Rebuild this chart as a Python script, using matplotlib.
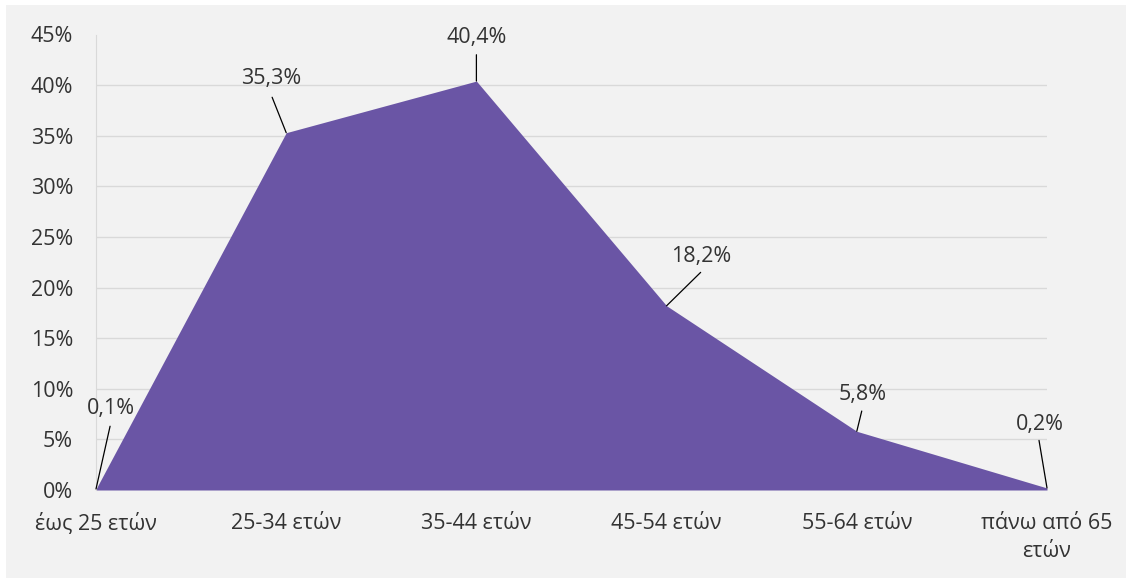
import matplotlib
matplotlib.use("Agg")
import matplotlib.pyplot as plt
from matplotlib.patches import Rectangle

plt.rcParams["font.family"] = ["Open Sans", "DejaVu Sans"]

categories = ["έως 25 ετών", "25-34 ετών", "35-44 ετών", "45-54 ετών",
              "55-64 ετών", "πάνω από 65\nετών"]
values = [0.1, 35.3, 40.4, 18.2, 5.8, 0.2]
labels = ["0,1%", "35,3%", "40,4%", "18,2%", "5,8%", "0,2%"]
yticks = [0, 5, 10, 15, 20, 25, 30, 35, 40, 45]

# data label placement: text centre and leader-line end, relative to the point
text_dx = [0.08, -0.08, 0.0, 0.18, 0.03, -0.04]
text_dy = [8.0, 5.4, 4.3, 4.9, 3.6, 6.3]
line_dx = [0.074, -0.074, 0.0, 0.179, 0.026, -0.042]
line_dy = [6.2, 3.5, 2.6, 3.3, 2.0, 4.7]

FS = 15.5

fig = plt.figure(figsize=(11.32, 5.78), dpi=100, facecolor="white")
fig.patches.append(Rectangle((6 / 1132, 0), 1120 / 1132, 573 / 578,
                             transform=fig.transFigure, facecolor="#F2F2F2",
                             edgecolor="none", zorder=-5))
ax = fig.add_axes([96 / 1132, 88 / 578, (1047 - 96) / 1132, (490 - 34.5) / 578])
ax.set_facecolor("none")

x = list(range(len(categories)))
ax.fill_between(x, 0, values, color="#6A55A5", linewidth=0, zorder=2)

for i, (v, t) in enumerate(zip(values, labels)):
    ax.annotate("", xy=(i, v), xytext=(i + line_dx[i], v + line_dy[i]),
                arrowprops=dict(arrowstyle="-", color="black", lw=0.9,
                                shrinkA=0, shrinkB=0), zorder=4)
    ax.text(i + text_dx[i], v + text_dy[i], t, ha="center", va="center",
            fontsize=FS, color="#333333", zorder=4, clip_on=False)

ax.set_xlim(0, 5)
ax.set_ylim(0, 45)
ax.set_yticks(yticks)
ax.set_yticklabels([f"{t}%" for t in yticks])
ax.set_xticks(x)
ax.set_xticklabels(categories)
ax.tick_params(axis="both", length=0, labelsize=FS, labelcolor="#333333")
ax.tick_params(axis="y", pad=16.5)
ax.tick_params(axis="x", pad=16.5)
for lab in ax.get_xticklabels():
    lab.set_linespacing(1.45)

ax.yaxis.grid(True, color="#D9D9D9", lw=1, zorder=1)
ax.set_axisbelow(True)
ax.yaxis.get_gridlines()[-1].set_visible(False)
for s in ["top", "right", "bottom"]:
    ax.spines[s].set_visible(False)
ax.spines["left"].set_color("#D9D9D9")

fig.savefig("out.png", dpi=100, facecolor="white")
